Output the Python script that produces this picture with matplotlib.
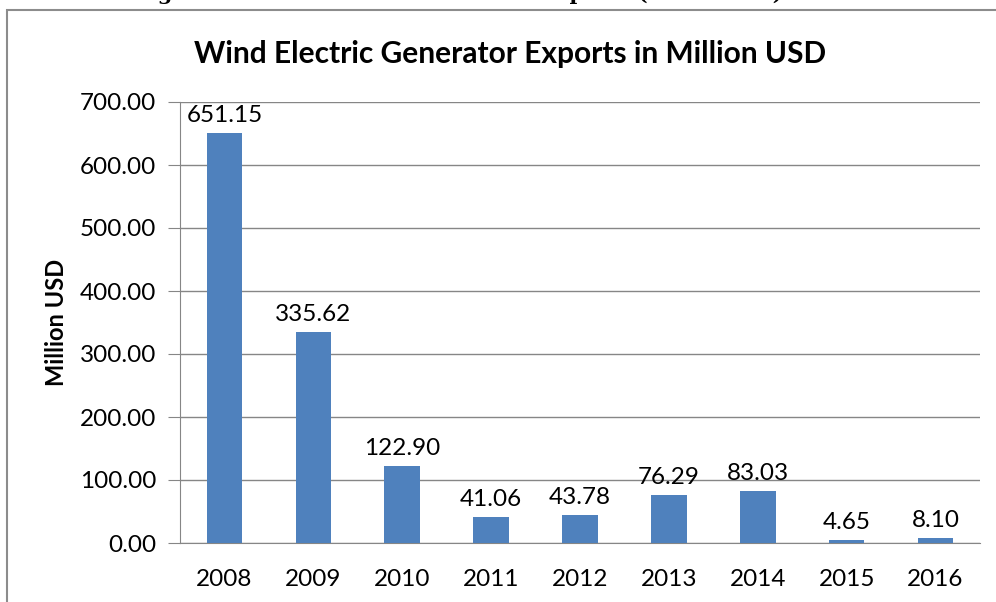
import matplotlib
matplotlib.use("Agg")
import matplotlib.pyplot as plt
from matplotlib.patches import Rectangle

years = ["2008", "2009", "2010", "2011", "2012", "2013", "2014", "2015", "2016"]
exports = [651.15, 335.62, 122.90, 41.06, 43.78, 76.29, 83.03, 4.65, 8.10]
y_ticks = [0, 100, 200, 300, 400, 500, 600, 700]

plt.rcParams["font.family"] = ["Lato", "DejaVu Sans"]

fig = plt.figure(figsize=(9.96, 6.02), dpi=100)
ax = fig.add_axes([180 / 996, 1 - 543 / 602, 800 / 996, 441 / 602])

# caption of the page, mostly cut off at the top edge
fig.text(135 / 996, 1 - 0.5 / 602, "Figure 5: Wind Electric Generator Exports (2008-2016)",
         ha="left", va="baseline", fontsize=15, fontweight="bold",
         family="DejaVu Serif")

# chart frame
fig.patches.append(Rectangle((7 / 996, -0.1), 1.2, 1 - 10 / 602 + 0.1,
                             transform=fig.transFigure, fill=False,
                             edgecolor="#8c8c8c", linewidth=1.5))

x = range(len(years))
bars = ax.bar(x, exports, width=0.4, color="#4F81BD", zorder=3)
for xi, v in zip(x, exports):
    ax.annotate(f"{v:.2f}", (xi, v), xytext=(0, 5), textcoords="offset points",
                ha="center", va="bottom", fontsize=17.5)

ax.set_xlim(-0.5, len(years) - 0.5)
ax.set_ylim(0, 700)
ax.set_yticks(y_ticks)
ax.set_yticklabels([f"{t:.2f}" for t in y_ticks], fontsize=17.5)
ax.set_xticks(list(x))
ax.set_xticklabels(years, fontsize=17.5)
ax.tick_params(axis="y", length=9, color="#868686", pad=8)
ax.tick_params(axis="x", length=0, pad=19)
ax.grid(axis="y", color="#868686", linewidth=1, zorder=0)

for s in ["top", "right"]:
    ax.spines[s].set_visible(False)
ax.spines["left"].set_color("#868686")
ax.spines["bottom"].set_color("#868686")

fig.text(56 / 996, 1 - 322 / 602, "Million USD", rotation=90,
         ha="center", va="center", fontsize=17, fontweight="bold")
fig.text(510 / 996, 1 - 54 / 602, "Wind Electric Generator Exports in Million USD",
         ha="center", va="center", fontsize=21.5, fontweight="bold")

plt.savefig("out.png", dpi=100)
